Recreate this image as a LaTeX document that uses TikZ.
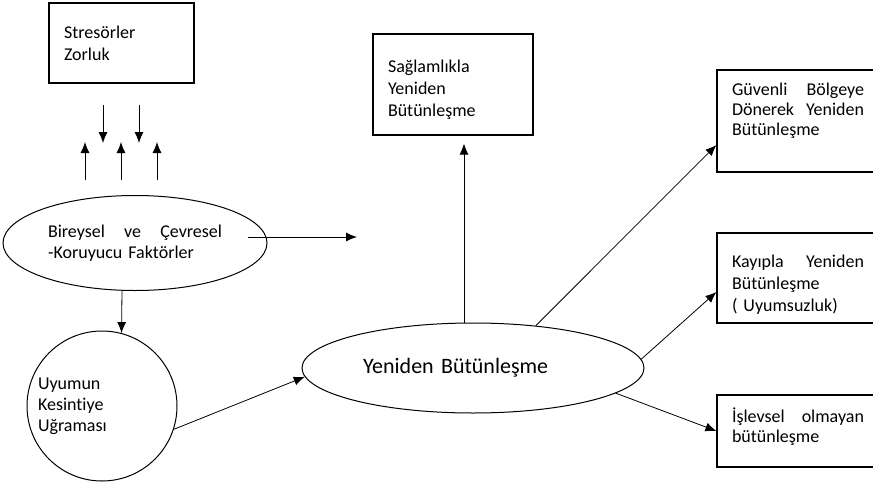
\documentclass[tikz,border=0pt]{standalone}
\usepackage{fontspec}
\setmainfont{Carlito}[Ligatures=NoCommon]
\usetikzlibrary{arrows.meta,shapes.geometric}

\begin{document}
\begin{tikzpicture}[x=1pt,y=-1pt]
\tikzset{box/.style = {shape=rectangle,draw,line width=1.2pt,align=left,inner xsep=15pt,font=\fontsize{18}{22}\selectfont}}
\tikzset{oval/.style = {shape=ellipse,draw,line width=1pt,align=left,inner sep=2pt,font=\fontsize{18}{21}\selectfont}}
\tikzset{edge/.style = {-{Latex[length=11pt,width=9pt]},line width=0.8pt}}
\clip (0,0) rectangle (873,490);
% boxes
\node[box,text width=115pt,minimum width=145pt,minimum height=80pt,text depth=22pt] (stres) at (121.5,43) {Stresörler\\Zorluk};
\node[box,text width=130pt,minimum width=160pt,minimum height=101pt,text depth=37pt] (saglam) at (453,84.5) {Sağlamlıkla\\Yeniden\\Bütünleşme};
\node[box,text width=132pt,minimum height=102pt,text depth=64pt,font=\fontsize{18}{20}\selectfont] (guven) at (798,121) {Güvenli\hfill Bölgeye\\Dönerek\hfill Yeniden\\Bütünleşme};
\node[box,text width=132pt,minimum height=90pt,text depth=33pt] (kayip) at (798,278) {Kayıpla\hfill Yeniden\\Bütünleşme\\( Uyumsuzluk)};
\node[box,text width=132pt,minimum height=72pt,text depth=31pt,font=\fontsize{18}{20}\selectfont] (islev) at (798,431) {İşlevsel\hfill olmayan\\bütünleşme};
% ovals
\node[oval,text width=174pt,minimum width=264pt,minimum height=95pt] (bir) at (135,243) {Bireysel\hfill ve\hfill Çevresel\\-Koruyucu Faktörler};
\node[oval,shape=circle,text width=128pt,minimum size=150pt] (uyum) at (102,406) {Uyumun\\Kesintiye\\Uğraması};
\node[oval,text width=220pt,minimum width=342pt,minimum height=90pt,font=\fontsize{22}{26}\selectfont] (yeni) at (473,368) {Yeniden Bütünleşme};
% stress arrows
\foreach \x [count=\i] in {103,139} {
  \coordinate (dtop\i) at (\x,105);
  \coordinate (dbot\i) at (\x,143);
  \draw[edge] (dtop\i) -- (dbot\i);
}
\foreach \x [count=\i] in {85,121,157} {
  \coordinate (ubot\i) at (\x,180);
  \coordinate (utop\i) at (\x,142);
  \draw[edge] (ubot\i) -- (utop\i);
}
% edges
\coordinate (birend) at (357,237);
\draw[edge] ([xshift=-20pt,yshift=6pt]bir.east) -- (birend);
\draw[edge] ([xshift=-13pt]bir.south) -- (uyum.75);
\draw[edge] (uyum.-18) -- (yeni.183);
\draw[edge,shorten >=8pt] ([xshift=-9pt]yeni.north) -- ([xshift=11pt]saglam.south);
\draw[edge] (yeni.34.5) -- ([yshift=-24pt]guven.west);
\draw[edge] (yeni.3) -- ([yshift=-14pt]kayip.west);
\draw[edge] (yeni.-10) -- (islev.west);
\end{tikzpicture}
\end{document}
